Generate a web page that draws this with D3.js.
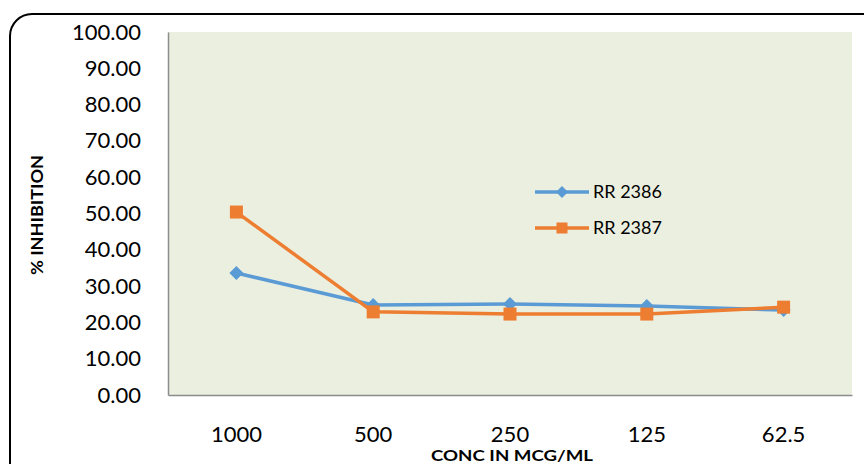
<!DOCTYPE html>
<html>
<head>
<meta charset="utf-8">
<script src="https://cdn.jsdelivr.net/npm/d3@7"></script>
<style>
  html, body { margin: 0; padding: 0; background: #fff; }
  svg { display: block; font-family: Lato, "Open Sans", sans-serif; }
</style>
</head>
<body>
<svg id="chart" width="864" height="464"></svg>
<script>
// Concentrations (mcg/ml) and % inhibition for each compound
const categories = ["1000", "500", "250", "125", "62.5"];
const rr2386 = [33.6, 24.8, 25.1, 24.5, 23.4];
const rr2387 = [50.4, 22.9, 22.3, 22.3, 24.2];
const yTicks = [0, 10, 20, 30, 40, 50, 60, 70, 80, 90, 100];

const series = [
  { name: "RR 2386", values: rr2386, color: "#5B9BD5", marker: "diamond" },
  { name: "RR 2387", values: rr2387, color: "#ED7D31", marker: "square" }
];

const svg = d3.select("#chart");
const plot = { left: 168, top: 32, right: 852, bottom: 395 };

// Outer chart frame with rounded corners
svg.append("rect")
  .attr("x", 10).attr("y", 14)
  .attr("width", 880).attr("height", 480)
  .attr("rx", 22).attr("ry", 22)
  .attr("fill", "#fff")
  .attr("stroke", "#000").attr("stroke-width", 2);

// Plot area background
svg.append("rect")
  .attr("x", plot.left).attr("y", plot.top)
  .attr("width", plot.right - plot.left).attr("height", plot.bottom - plot.top)
  .attr("fill", "#EBEFDF");

const x = d3.scaleBand().domain(categories).range([plot.left, plot.right]);
const y = d3.scaleLinear().domain([0, 100]).range([plot.bottom, plot.top]);

// Y axis
const yAxis = svg.append("g")
  .attr("transform", `translate(${plot.left},0)`)
  .call(d3.axisLeft(y).tickValues(yTicks).tickFormat(d3.format(".2f")).tickSize(0).tickPadding(27));
yAxis.select(".domain").attr("stroke", "#8c8c8c").attr("stroke-width", 1.5);
yAxis.selectAll("text").attr("font-size", 22).attr("fill", "#000")
  .attr("font-family", "Lato, 'Open Sans', sans-serif");

// X axis
const xAxis = svg.append("g")
  .attr("transform", `translate(0,${plot.bottom})`)
  .call(d3.axisBottom(x).tickSize(0).tickPadding(31));
xAxis.select(".domain").attr("stroke", "#8c8c8c").attr("stroke-width", 1.5);
xAxis.selectAll("text").attr("font-size", 22).attr("fill", "#000")
  .attr("font-family", "Lato, 'Open Sans', sans-serif");

// Axis titles
svg.append("text")
  .attr("x", (plot.left + plot.right) / 2 + 2).attr("y", 461)
  .attr("text-anchor", "middle")
  .attr("font-size", 16).attr("font-weight", "bold")
  .attr("textLength", 162).attr("lengthAdjust", "spacingAndGlyphs")
  .text("CONC IN MCG/ML");

svg.append("text")
  .attr("transform", "translate(43,215) rotate(-90)")
  .attr("text-anchor", "middle")
  .attr("font-size", 17).attr("font-weight", "bold")
  .attr("textLength", 120).attr("lengthAdjust", "spacingAndGlyphs")
  .text("% INHIBITION");

const cx = d => x(d) + x.bandwidth() / 2;
const line = d3.line().x((d, i) => cx(categories[i])).y(d => y(d));

// Diamond drawn as a square turned 45 degrees; square marker as-is
const markerPath = (type, r) => type === "diamond"
  ? `M0,${-r}L${r},0L0,${r}L${-r},0Z`
  : `M${-r},${-r}H${r}V${r}H${-r}Z`;

series.forEach(s => {
  svg.append("path")
    .datum(s.values)
    .attr("d", line)
    .attr("fill", "none")
    .attr("stroke", s.color)
    .attr("stroke-width", 3.5)
    .attr("stroke-linejoin", "round");

  svg.append("g").selectAll("path")
    .data(s.values)
    .join("path")
    .attr("transform", (d, i) => `translate(${cx(categories[i])},${y(d)})`)
    .attr("d", markerPath(s.marker, s.marker === "diamond" ? 7 : 6.5))
    .attr("fill", s.color);
});

// Legend
const legend = svg.append("g").attr("transform", "translate(535,192)");
series.forEach((s, i) => {
  const g = legend.append("g").attr("transform", `translate(0,${i * 36})`);
  g.append("line").attr("x1", 0).attr("x2", 54).attr("y1", 0).attr("y2", 0)
    .attr("stroke", s.color).attr("stroke-width", 3.5);
  g.append("path")
    .attr("transform", "translate(27,0)")
    .attr("d", markerPath(s.marker, s.marker === "diamond" ? 6 : 5.5))
    .attr("fill", s.color);
  g.append("text").attr("x", 58).attr("y", 0).attr("dy", "0.35em")
    .attr("font-size", 18).attr("fill", "#000").text(s.name);
});
</script>
</body>
</html>
